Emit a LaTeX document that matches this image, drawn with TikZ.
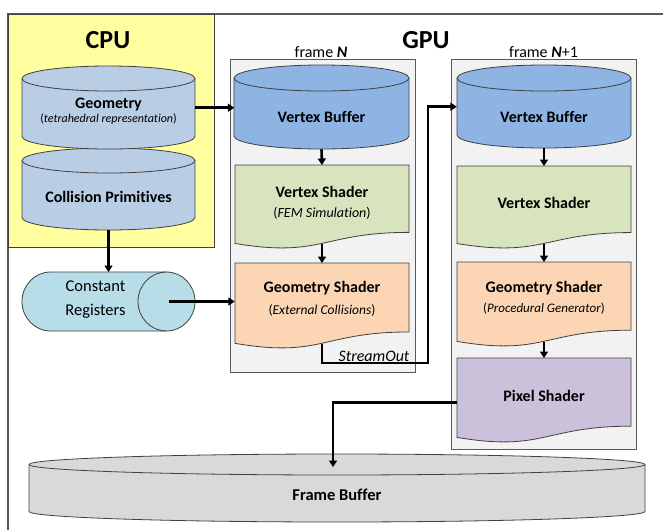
\documentclass[tikz,border=0pt]{standalone}
\usepackage{fontspec}
\setmainfont[Ligatures=NoCommon]{Carlito}
\usetikzlibrary{arrows.meta}

\definecolor{cpuyellow}{HTML}{FFFF9F}
\definecolor{cylgray}{HTML}{B9CDE5}
\definecolor{vbblue}{HTML}{8DB4E2}
\definecolor{vsgreen}{HTML}{D7E4BD}
\definecolor{gsorange}{HTML}{FCD5B5}
\definecolor{pspurple}{HTML}{CCC1DA}
\definecolor{regcyan}{HTML}{B7DDE8}
\definecolor{fbgray}{HTML}{D9D9D9}
\definecolor{panelgray}{HTML}{F2F2F2}
\definecolor{edge}{HTML}{404040}

% vertical cylinder: x-left, x-right, y-top, y-bottom, ellipse half-height, fill
\newcommand\drawcyl[6]{%
  \pgfmathsetmacro\cylrx{(#2-#1)/2}%
  \filldraw[shapeline, fill=#6] (#1,#3+#5) -- (#1,#4-#5)
    arc[start angle=180, end angle=360, x radius=\cylrx pt, y radius=#5pt]
    -- (#2,#3+#5)
    arc[start angle=0, end angle=180, x radius=\cylrx pt, y radius=#5pt] -- cycle;
  \draw[shapeline] (#1,#3+#5)
    arc[start angle=180, end angle=360, x radius=\cylrx pt, y radius=#5pt];
}
% document shape with a wavy lower edge: x-left, x-right, y-top, height, fill
\newcommand\drawdoc[5]{%
  \pgfmathsetmacro\docmid{(#1+#2)/2}%
  \filldraw[shapeline, fill=#5] (#1,#3) -- (#2,#3) -- (#2,#3+0.802*#4)
    .. controls (\docmid,#3+0.802*#4) and (\docmid,#3+1.107*#4) .. (#1,#3+0.934*#4)
    -- cycle;
}

\tikzset{
  shapeline/.style={draw=edge, line width=0.8pt},
  panel/.style={draw=black!65, line width=0.8pt, fill=panelgray},
  area/.style={draw=none, inner sep=0pt, anchor=north, minimum width=174pt},
  flow/.style={line width=2.6pt, -{Triangle[length=6.5pt,width=8pt]}},
  head/.style={font=\fontsize{26}{28}\selectfont\bfseries},
  title/.style={font=\fontsize{16}{18}\selectfont\bfseries},
  sub/.style={font=\fontsize{13.5}{15}\selectfont},
  caption/.style={font=\fontsize{16}{18}\selectfont},
}

\begin{document}
\begin{tikzpicture}[x=1pt, y=-1pt]
\useasboundingbox (0,0) rectangle (663,530);

% surrounding frame and CPU area
\draw[draw=black!65, line width=1.3pt] (8,530) -- (8,14) -- (663,14);
\filldraw[fill=cpuyellow, draw=edge, line width=0.8pt] (8,14) rectangle (214,247);

% frame panels
\draw[panel] (230,59) rectangle (415,372);
\draw[panel] (451,59) rectangle (636,449);

% CPU storage
\drawcyl{22}{195}{148}{230}{12.5}{cylgray}
\drawcyl{22}{195}{66}{149}{12.5}{cylgray}

% constant registers (horizontal cylinder)
\filldraw[shapeline, fill=regcyan] (50.5,272) -- (166.5,272)
  arc[start angle=90, end angle=-90, x radius=28.5pt, y radius=29.5pt]
  -- (50.5,331)
  arc[start angle=270, end angle=90, x radius=28.5pt, y radius=29.5pt] -- cycle;
\draw[shapeline] (166.5,272)
  arc[start angle=90, end angle=270, x radius=28.5pt, y radius=29.5pt];

% frame N
\drawcyl{234}{409}{65}{149}{13}{vbblue}
\drawdoc{235}{409}{165}{84}{vsgreen}
\drawdoc{235}{409}{263}{86}{gsorange}

% frame N+1
\drawcyl{457}{631}{65}{148}{13}{vbblue}
\drawdoc{457}{631}{166}{83}{vsgreen}
\drawdoc{457}{631}{262}{85}{gsorange}
\drawdoc{457}{631}{358}{85}{pspurple}

% frame buffer
\drawcyl{29}{645}{454}{522}{10.5}{fbgray}

% anchoring areas of the shapes
\node[area, minimum width=173pt, minimum height=83pt] (geom) at (108.5,66) {};
\node[area, minimum width=173pt, minimum height=82pt] (coll) at (108.5,148) {};
\node[area, minimum width=173pt, minimum height=59pt] (creg) at (108.5,272) {};
\coordinate (cregIn) at (169,301.5);
\node[area, minimum height=84pt] (vbN) at (321.5,65) {};
\node[area, minimum height=78.4pt] (vsN) at (322,165) {};
\node[area, minimum height=80.2pt] (gsN) at (322,263) {};
\node[area, minimum height=83pt] (vbM) at (544,65) {};
\node[area, minimum height=77.4pt] (vsM) at (544,166) {};
\node[area, minimum height=79.3pt] (gsM) at (544,262) {};
\node[area, minimum height=88pt] (psM) at (544,358) {};
\coordinate (soTurn) at (428,363);
\coordinate (fbIn) at (333,467);

% labels
\node[head] (cpuT) at (108,40) {CPU};
\node[head] (gpuT) at (426,40) {GPU};
\node[caption] (frN) at (321,52) {frame \textbf{\textit{N}}};
\node[caption] (frM) at (543.5,52) {frame \textbf{\textit{N}}+1};

\node[title] (geomT) at (108.5,105) {Geometry};
\node[font=\fontsize{12}{13}\selectfont] (geomS) at (108.5,119) {(\textit{tetrahedral representation})};
\node[title] (collT) at (108.5,197) {Collision Primitives};
\node[font=\fontsize{16.5}{24}\selectfont, align=center] (cregT) at (95.5,300) {Constant\\Registers};

\node[title] (vbNT) at (321.5,117) {Vertex Buffer};
\node[title] (vsNT) at (322,192) {Vertex Shader};
\node[font=\fontsize{14}{15}\selectfont] (vsNS) at (322,213) {(\textit{FEM Simulation})};
\node[title] (gsNT) at (322,288) {Geometry Shader};
\node[sub] (gsNS) at (322,310) {(\textit{External Collisions})};

\node[title] (vbMT) at (544,117) {Vertex Buffer};
\node[title] (vsMT) at (544,203) {Vertex Shader};
\node[title] (gsMT) at (544,288) {Geometry Shader};
\node[font=\fontsize{13}{15}\selectfont] (gsMS) at (544,309) {(\textit{Procedural Generator})};
\node[title] (psMT) at (544,396) {Pixel Shader};

\node[font=\fontsize{16}{18}\selectfont\itshape] (soT) at (374,356) {StreamOut};
\node[font=\fontsize{16.5}{18}\selectfont\bfseries] (fbT) at (337,495) {Frame Buffer};

% connectors
\draw[flow] (geom.east) -- (geom.east -| vbN.west);
\draw[flow] (coll.south) -- (creg.north);
\draw[flow] (cregIn) -- (cregIn -| gsN.west);
\draw[flow] (vbN.south) -- (vsN.north);
\draw[flow] (vsN.south) -- (gsN.north);
\draw[flow] (gsN.south) |- (soTurn) |- (vbM.west);
\draw[flow] (vbM.south) -- (vsM.north);
\draw[flow] (vsM.south) -- (gsM.north);
\draw[flow] (gsM.south) -- (psM.north);
\draw[flow] (psM.west) -| (fbIn);
\end{tikzpicture}
\end{document}
